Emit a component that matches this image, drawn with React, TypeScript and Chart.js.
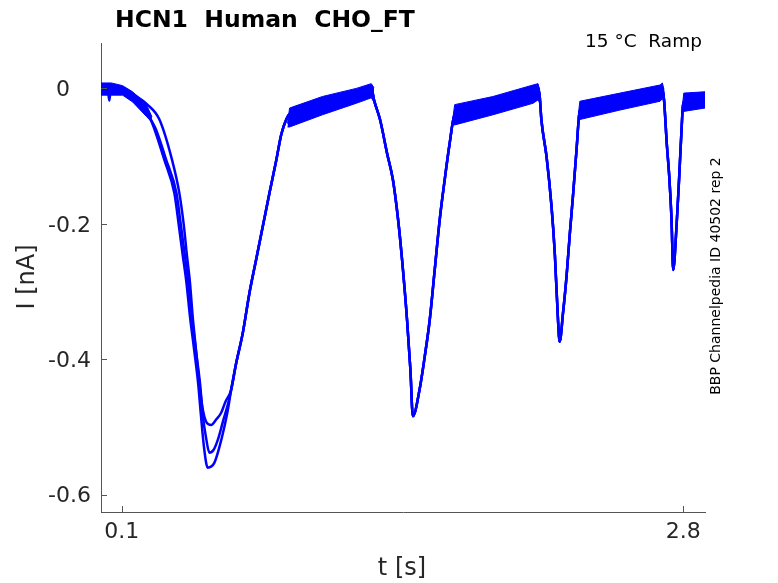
import { useEffect, useRef } from 'react'
import { Chart, registerables } from 'chart.js'

Chart.register(...registerables)

// first trough: the three sweeps separate, afterwards they overlap
const headATime = [0, 0.021, 0.033, 0.040, 0.047, 0.078, 0.104, 0.152, 0.217, 0.252, 0.305, 0.353, 0.375, 0.393, 0.411, 0.428, 0.448, 0.467, 0.481, 0.497, 0.513, 0.545, 0.570, 0.594, 0.610]
const headACurrent = [0.001, 0.002, -0.002, -0.018, -0.002, 0.002, -0.002, -0.012, -0.032, -0.056, -0.106, -0.155, -0.204, -0.246, -0.287, -0.337, -0.386, -0.435, -0.484, -0.534, -0.560, -0.553, -0.529, -0.499, -0.475]

const headBTime = [0, 0.078, 0.104, 0.152, 0.217, 0.261, 0.314, 0.363, 0.385, 0.403, 0.420, 0.437, 0.456, 0.476, 0.490, 0.507, 0.521, 0.541, 0.565, 0.589, 0.610]
const headBCurrent = [-0.002, 0.001, -0.005, -0.015, -0.036, -0.058, -0.106, -0.155, -0.204, -0.246, -0.287, -0.337, -0.386, -0.435, -0.484, -0.519, -0.538, -0.534, -0.516, -0.489, -0.467]

const headCTime = [0, 0.078, 0.112, 0.160, 0.223, 0.281, 0.342, 0.377, 0.399, 0.413, 0.428, 0.441, 0.457, 0.473, 0.490, 0.504, 0.530, 0.554, 0.578, 0.598]
const headCCurrent = [0.004, 0.004, -0.001, -0.010, -0.024, -0.046, -0.106, -0.155, -0.204, -0.246, -0.287, -0.337, -0.386, -0.435, -0.475, -0.491, -0.497, -0.489, -0.479, -0.463]

const tailTime = [0.626, 0.650, 0.682, 0.714, 0.746, 0.778, 0.810, 0.843, 0.867, 0.891, 0.907, 1.065, 1.228, 1.300, 1.313, 1.342, 1.376, 1.404, 1.429, 1.448, 1.472, 1.488, 1.500, 1.532, 1.557, 1.581, 1.605, 1.629, 1.653, 1.677, 1.701, 1.885, 2.078, 2.102, 2.110, 2.118, 2.143, 2.167, 2.183, 2.198, 2.206, 2.222, 2.239, 2.255, 2.271, 2.287, 2.303, 2.496, 2.689, 2.700, 2.708, 2.721, 2.733, 2.744, 2.752, 2.768, 2.781, 2.793, 2.800, 2.896, 2.905]
const tailCurrent = [-0.445, -0.406, -0.361, -0.302, -0.253, -0.204, -0.155, -0.106, -0.068, -0.046, -0.038, -0.026, -0.011, 0.001, -0.017, -0.046, -0.096, -0.135, -0.194, -0.253, -0.342, -0.415, -0.484, -0.445, -0.396, -0.342, -0.268, -0.194, -0.135, -0.081, -0.039, -0.026, -0.008, 0.001, -0.012, -0.046, -0.101, -0.175, -0.246, -0.342, -0.374, -0.332, -0.278, -0.214, -0.155, -0.091, -0.033, -0.019, -0.007, 0.001, -0.017, -0.081, -0.130, -0.194, -0.268, -0.204, -0.130, -0.056, -0.021, -0.017, -0.017]

// noise envelope on the flat stretches (upper / lower edge)
const band0Time = [0, 0.05, 0.104, 0.152, 0.217, 0.245]
const band0Hi = [0.008, 0.008, 0.004, -0.005, -0.023, -0.042]
const band0Lo = [-0.010, -0.010, -0.010, -0.020, -0.041, -0.050]

const band1Time = [0.897, 0.907, 1.065, 1.228, 1.300, 1.313]
const band1Hi = [-0.052, -0.029, -0.012, 0.000, 0.007, 0.001]
const band1Lo = [-0.057, -0.057, -0.039, -0.022, -0.014, -0.020]

const band2Time = [1.692, 1.701, 1.885, 2.078, 2.102, 2.110]
const band2Hi = [-0.045, -0.024, -0.012, 0.005, 0.007, -0.002]
const band2Lo = [-0.054, -0.054, -0.039, -0.022, -0.017, -0.021]

const band3Time = [2.294, 2.303, 2.496, 2.689, 2.700, 2.708]
const band3Hi = [-0.044, -0.019, -0.007, 0.005, 0.008, -0.002]
const band3Lo = [-0.046, -0.046, -0.032, -0.019, -0.015, -0.020]

const band4Time = [2.797, 2.803, 2.905]
const band4Hi = [-0.024, -0.007, -0.005]
const band4Lo = [-0.034, -0.034, -0.029]

const xTicks = [0.1, 2.8]
const yTicks = [-0.6, -0.4, -0.2, 0]
const yTickLabels = ['-0.6', '-0.4', '-0.2', '0   ']

const BLUE = '#0000ff'
const AXIS = '#555555'
const TEXT = '#262626'
const FONT = '"DejaVu Sans", sans-serif'

const toPoints = (ts: number[], vs: number[]) => ts.map((x, i) => ({ x, y: vs[i] }))

const traceLine = (data: { x: number; y: number }[]) => ({
  data,
  borderColor: BLUE,
  borderWidth: 2.5,
  pointRadius: 0,
  fill: false,
  cubicInterpolationMode: 'monotone',
})

const bandPair = (ts: number[], hi: number[], lo: number[]) => [
  { data: toPoints(ts, hi), borderColor: BLUE, borderWidth: 1, pointRadius: 0, fill: false },
  { data: toPoints(ts, lo), borderColor: BLUE, borderWidth: 1, pointRadius: 0, fill: '-1', backgroundColor: BLUE },
]

const decorations = {
  id: 'decorations',
  afterDraw(chart: Chart) {
    const { ctx, chartArea } = chart
    const x = chart.scales.x
    const y = chart.scales.y
    ctx.save()

    // inward tick marks
    ctx.strokeStyle = AXIS
    ctx.lineWidth = 1
    ctx.beginPath()
    xTicks.forEach(v => {
      const px = Math.round(x.getPixelForValue(v)) + 0.5
      ctx.moveTo(px, chartArea.bottom)
      ctx.lineTo(px, chartArea.bottom - 6)
    })
    yTicks.forEach(v => {
      const py = Math.round(y.getPixelForValue(v)) + 0.5
      ctx.moveTo(chartArea.left, py)
      ctx.lineTo(chartArea.left + 6, py)
    })
    ctx.stroke()

    // title
    ctx.fillStyle = '#000'
    ctx.textAlign = 'left'
    ctx.textBaseline = 'alphabetic'
    ctx.font = `bold 23.5px ${FONT}`
    ctx.fillText('HCN1  Human  CHO_FT', 115, 27)

    ctx.font = `18.5px ${FONT}`
    ctx.fillText('15 °C  Ramp', 585, 47)

    // axis titles
    ctx.fillStyle = TEXT
    ctx.textAlign = 'center'
    ctx.font = `24px ${FONT}`
    ctx.fillText('t [s]', 402, 575)

    ctx.save()
    ctx.translate(34, 277)
    ctx.rotate(-Math.PI / 2)
    ctx.fillText('I [nA]', 0, 0)
    ctx.restore()

    ctx.save()
    ctx.fillStyle = '#000'
    ctx.font = `14px ${FONT}`
    ctx.translate(720, 276)
    ctx.rotate(-Math.PI / 2)
    ctx.fillText('BBP Channelpedia ID 40502 rep 2', 0, 0)
    ctx.restore()

    ctx.restore()
  },
}

export default function App() {
  const canvasRef = useRef<HTMLCanvasElement>(null)
  const chartRef = useRef<Chart | null>(null)

  useEffect(() => {
    document.body.style.margin = '0'
    if (!canvasRef.current) return
    if (chartRef.current) chartRef.current.destroy()

    const datasets: any[] = [
      traceLine(toPoints(headATime.concat(tailTime), headACurrent.concat(tailCurrent))),
      traceLine(toPoints(headBTime.concat(tailTime), headBCurrent.concat(tailCurrent))),
      traceLine(toPoints(headCTime.concat(tailTime), headCCurrent.concat(tailCurrent))),
      ...bandPair(band0Time, band0Hi, band0Lo),
      ...bandPair(band1Time, band1Hi, band1Lo),
      ...bandPair(band2Time, band2Hi, band2Lo),
      ...bandPair(band3Time, band3Hi, band3Lo),
      ...bandPair(band4Time, band4Hi, band4Lo),
    ]

    chartRef.current = new Chart(canvasRef.current, {
      type: 'line',
      data: { datasets },
      options: {
        responsive: false,
        animation: false,
        events: [],
        layout: { padding: { top: 43, right: 73, bottom: 0, left: 0 } },
        plugins: {
          legend: { display: false },
          tooltip: { enabled: false },
          title: { display: false },
        },
        scales: {
          x: {
            type: 'linear',
            min: 0,
            max: 2.905,
            afterBuildTicks: (scale: any) => {
              scale.ticks = xTicks.map(value => ({ value }))
            },
            afterFit: (scale: any) => {
              scale.height = 71
            },
            grid: { display: false, drawTicks: false },
            border: { display: true, color: AXIS, width: 1 },
            ticks: {
              autoSkip: false,
              maxRotation: 0,
              padding: 7,
              color: TEXT,
              font: { family: FONT, size: 22 },
              callback: (v: any) => String(v),
            },
          },
          y: {
            type: 'linear',
            min: -0.6255,
            max: 0.067,
            afterBuildTicks: (scale: any) => {
              scale.ticks = yTicks.map(value => ({ value }))
            },
            afterFit: (scale: any) => {
              scale.width = 101
            },
            grid: { display: false, drawTicks: false },
            border: { display: true, color: AXIS, width: 1 },
            ticks: {
              autoSkip: false,
              padding: 10,
              labelOffset: 2,
              color: TEXT,
              font: { family: FONT, size: 22 },
              callback: (v: any) => yTickLabels[yTicks.indexOf(Number(v))] ?? String(v),
            },
          },
        },
      },
      plugins: [decorations],
    })

    return () => {
      if (chartRef.current) {
        chartRef.current.destroy()
        chartRef.current = null
      }
    }
  }, [])

  return (
    <div style={{ width: 778, height: 583, background: '#fff' }}>
      <canvas ref={canvasRef} width={778} height={583} />
    </div>
  )
}
